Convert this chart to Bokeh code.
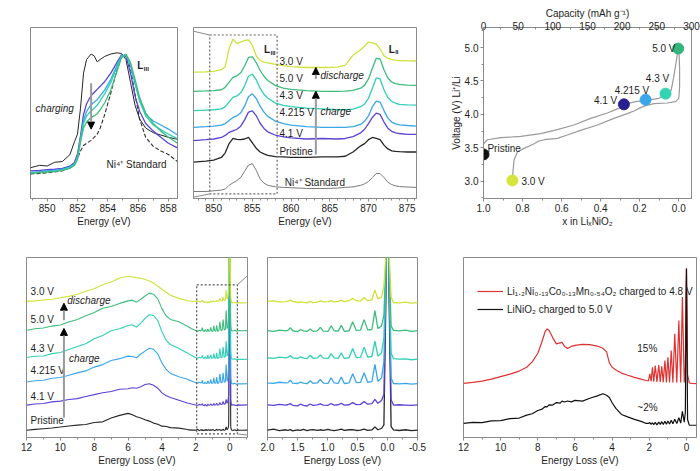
from bokeh.plotting import figure
from bokeh.layouts import row, column
from bokeh.models import (Range1d, LinearAxis, FixedTicker, Arrow, NormalHead, Label,
                          Legend, LegendItem, PrintfTickFormatter)
from bokeh.core.properties import value
from bokeh.embed import file_html
from bokeh.resources import INLINE

FONT = "Liberation Sans"
AXC = "#8a8a8a"
TXT = "#1e1e1e"

C30, C50, C43, C4215, C41, CPR = "#cfe23a", "#3dbd7d", "#2fd0b5", "#3aa6ea", "#5a44d6", "#262626"

# ---------------- panel a (right): Ni L-edge PFY, offset spectra
E_PFY = [847.4, 849, 850, 851, 851.5, 852, 852.5, 853, 853.5, 854, 854.5, 855, 855.5, 856, 856.5, 857, 858, 859, 860,
         862, 864, 866, 867, 868, 869, 869.5, 870, 870.5, 871, 871.5, 872, 872.5, 873, 873.5, 874, 875, 876.2]
PFY_30 = [73.9, 74.1, 74.4, 75.3, 77.1, 87.9, 93.2, 90.6, 91.5, 92.4, 92.8, 89.7, 83.4, 80.7, 79.8, 79.3, 78.4, 77.7, 77.1,
          76.6, 76.6, 76.8, 78.0, 83.8, 87.0, 89.2, 91.5, 91.0, 90.3, 87.4, 83.4, 82.0, 81.3, 80.9, 80.7, 80.5, 80.4]
PFY_50 = [62.7, 62.9, 63.1, 63.6, 65.0, 68.1, 70.8, 71.7, 73.5, 77.5, 82.5, 82.8, 79.5, 75.0, 71.5, 69.0, 66.0, 64.6, 63.8,
          63.1, 62.7, 62.7, 62.8, 63.2, 64.5, 66.3, 69.9, 76.2, 82.0, 81.6, 75.3, 70.5, 68.1, 67.2, 66.7, 66.3, 66.1]
PFY_43 = [51.4, 51.7, 51.9, 52.4, 53.7, 56.4, 59.1, 60.0, 61.8, 65.8, 71.5, 72.8, 69.5, 64.5, 61.0, 58.6, 55.8, 54.5, 53.7,
          52.8, 52.4, 51.9, 51.9, 52.3, 53.7, 55.3, 58.6, 64.5, 70.5, 69.9, 63.6, 59.1, 56.8, 55.7, 55.1, 54.8, 54.6]
PFY_4215 = [41.6, 42.0, 42.3, 42.9, 43.8, 45.6, 47.4, 48.3, 50.1, 54.0, 59.5, 61.2, 58.5, 54.0, 50.5, 48.0, 45.2, 43.8, 42.9,
            42.0, 41.6, 41.6, 41.6, 42.0, 43.4, 45.2, 48.3, 53.7, 56.9, 56.4, 51.4, 47.0, 44.7, 43.6, 43.1, 42.7, 42.3]
PFY_41 = [33.9, 34.4, 34.8, 35.7, 36.9, 38.7, 39.6, 40.5, 42.3, 46.0, 50.5, 51.2, 48.5, 44.0, 41.0, 39.0, 37.0, 36.0, 35.5,
          34.8, 35.1, 34.8, 35.1, 36.2, 38.4, 40.5, 43.8, 47.4, 49.9, 49.2, 44.7, 41.1, 39.3, 38.4, 38.0, 37.5, 37.5]
PFY_PR = [21.3, 21.8, 22.5, 24.0, 26.7, 32.1, 35.1, 34.6, 34.4, 34.8, 35.7, 32.6, 29.4, 27.2, 26.1, 25.2, 24.5, 24.3, 24.0,
          24.0, 24.3, 24.3, 24.7, 27.2, 30.8, 32.1, 34.4, 35.7, 35.1, 34.4, 31.2, 29.0, 27.9, 27.6, 27.4, 27.2, 27.2]
PFY_STD = [4.1, 4.1, 4.5, 4.9, 5.6, 7.7, 9.2, 10.5, 12.3, 15.9, 19.5, 20.4, 16.5, 11.5, 9.0, 7.7, 6.8, 6.5, 6.3,
           5.9, 5.8, 6.1, 6.5, 6.8, 7.7, 8.6, 9.9, 12.3, 14.6, 14.6, 12.3, 9.5, 8.1, 7.4, 7.0, 6.7, 6.5]

# ---------------- panel a (left): normalised L3 edge
E_AL = [848.9, 849.5, 850, 850.5, 851, 851.5, 851.8, 852, 852.2, 852.4, 852.6, 852.9, 853.1, 853.3, 853.5, 853.8,
        854.2, 854.6, 854.9, 855.2, 855.5, 855.8, 856.1, 856.5, 857, 857.5, 858, 858.6]
AL_PR = [18.0, 19.4, 19.0, 21.2, 21.6, 25.6, 33.2, 37.6, 52.8, 73.3, 81.3, 84.5, 83.4, 79.9, 81.3, 83.1, 84.5, 85.2, 84.8,
         81.3, 67.9, 54.5, 46.5, 41.2, 38.5, 37.1, 35.8, 34.6]
AL_41 = [16.2, 16.4, 16.8, 17.1, 17.6, 18.9, 21.0, 26.0, 36.7, 49.2, 55.4, 60.2, 62.0, 63.8, 65.6, 68.4, 73.3, 79.5, 84.0,
         83.1, 73.3, 59.9, 51.0, 43.9, 39.4, 35.8, 32.3, 29.6]
AL_4215 = [15.3, 15.7, 16.2, 16.6, 17.1, 18.5, 20.3, 24.2, 34.9, 45.6, 51.0, 54.9, 56.3, 57.8, 60.2, 63.5, 69.7, 77.7, 83.4,
           84.0, 77.7, 67.0, 57.2, 49.2, 45.3, 43.0, 40.6, 37.1]
AL_43 = [15.0, 15.3, 15.7, 16.0, 16.6, 18.0, 19.8, 23.4, 34.0, 43.9, 48.3, 51.3, 52.8, 54.5, 57.2, 61.3, 67.9, 76.8, 83.1,
         84.0, 78.6, 67.9, 57.2, 48.3, 43.0, 40.3, 37.6, 34.9]
AL_50 = [14.8, 15.2, 15.5, 15.9, 16.4, 17.6, 19.4, 22.8, 33.2, 41.2, 44.7, 47.4, 48.3, 49.6, 51.9, 56.0, 63.5, 74.2, 82.2,
         84.3, 79.5, 69.7, 59.0, 50.1, 43.9, 39.4, 35.8, 32.3]
AL_STD = [14.4, 14.6, 15.0, 15.5, 16.2, 18.0, 20.7, 23.4, 27.8, 31.0, 32.3, 34.0, 35.8, 37.6, 41.2, 49.2, 61.7, 75.0, 83.1,
          84.0, 75.9, 60.8, 46.5, 35.8, 30.5, 27.8, 25.7, 21.6]

# ---------------- panel b: voltage profile
X_CH = [1.0, 0.98, 0.912, 0.809, 0.707, 0.622, 0.537, 0.451, 0.366, 0.324, 0.298, 0.264, 0.221, 0.17, 0.102, 0.068,
        0.039, 0.026, 0.012, 0.005, 0.0]
V_CH = [3.56, 3.62, 3.65, 3.67, 3.71, 3.77, 3.84, 3.94, 4.02, 4.07, 4.10, 4.16, 4.19, 4.21, 4.24, 4.29,
        4.36, 4.56, 4.81, 4.96, 5.0]
X_DIS = [0.0, -0.004, -0.004, 0.0, 0.017, 0.06, 0.128, 0.17, 0.196, 0.23, 0.264, 0.332, 0.417, 0.503, 0.571, 0.622,
         0.69, 0.716, 0.741, 0.792, 0.826, 0.844, 0.852]
V_DIS = [4.985, 4.70, 4.41, 4.24, 4.19, 4.17, 4.16, 4.13, 4.10, 4.05, 4.01, 3.94, 3.84, 3.76, 3.69, 3.64,
         3.62, 3.60, 3.56, 3.49, 3.44, 3.31, 3.04]
PT_NAME = ["Pristine", "3.0 V", "4.1 V", "4.215 V", "4.3 V", "5.0 V"]
PT_X = [1.0, 0.852, 0.281, 0.17, 0.068, 0.003]
PT_V = [3.40, 3.01, 4.15, 4.22, 4.31, 4.985]
PT_COL = ["#111111", "#d6e43c", "#2a1f8f", "#3aa6ea", "#34d3b4", "#33b57c"]

# ---------------- panel c: O K-edge RIXS (coarse part + fine low-loss part)
E_CC = [12, 11.5, 11, 10.5, 10, 9.5, 9, 8.5, 8, 7.5, 7, 6.5, 6, 5.75, 5.5, 5.25, 5.0, 4.75, 4.5, 4.25, 4.0, 3.75,
        3.5, 3.0, 2.5, 2.25]
E_CF = [2.0, 1.9, 1.8, 1.70, 1.66, 1.62, 1.58, 1.50, 1.45, 1.40, 1.34, 1.29, 1.24, 1.17, 1.12, 1.07, 0.99, 0.94, 0.89,
        0.82, 0.77, 0.72, 0.64, 0.58, 0.52, 0.45, 0.39, 0.33, 0.26, 0.21, 0.16, 0.10, 0.06, 0.03, 0.0, -0.03, -0.06,
        -0.1, -0.2, -0.3, -0.4, -0.5, -0.7, -1.05]
RX_30 = [75.6, 75.9, 76.4, 76.8, 77.6, 78.4, 79.6, 81.3, 82.6, 84.9, 86.4, 88.6, 89.6, 89.2, 88.8, 88.5, 87.8, 87.0,
         85.9, 84.0, 82.4, 80.7, 79.0, 77.3, 76.0, 75.7] + \
        [75.6, 75.9, 75.3, 75.5, 75.8, 76.3, 75.6, 75.0, 75.4, 75.1, 74.8, 75.6, 74.9, 75.2, 75.9, 75.3, 75.5, 76.0, 75.4,
         75.6, 76.2, 75.5, 76.0, 77.3, 76.0, 75.8, 77.8, 76.0, 76.5, 82.0, 77.0, 78.0, 84.0, 100.0, 160.0, 100.0, 78.0,
         75.0, 74.8, 75.2, 74.6, 74.9, 74.8, 74.9]
RX_50 = [59.6, 60.4, 60.8, 61.9, 62.5, 64.2, 65.6, 67.7, 69.5, 71.8, 72.8, 74.5, 75.9, 76.3, 75.2, 76.8, 78.6, 80.2,
         79.6, 77.0, 71.6, 67.5, 65.6, 64.3, 61.8, 60.4] + \
        [59.4, 59.0, 59.6, 59.2, 59.5, 61.0, 59.3, 58.8, 60.0, 59.2, 58.9, 60.3, 59.0, 59.2, 61.2, 59.1, 59.0, 62.0, 59.3,
         59.1, 62.3, 59.0, 59.3, 64.3, 59.5, 59.6, 65.5, 59.8, 60.0, 70.5, 60.5, 62.0, 68.0, 95.0, 160.0, 95.0, 62.0,
         59.5, 59.2, 59.6, 59.0, 59.4, 59.3, 59.4]
RX_43 = [44.4, 45.1, 45.3, 46.6, 47.2, 48.9, 50.6, 52.1, 54.9, 56.7, 59.3, 60.4, 62.2, 62.6, 61.3, 63.6, 66.2, 68.2,
         67.8, 65.0, 58.7, 54.0, 51.6, 49.4, 47.0, 45.6] + \
        [44.3, 44.0, 44.6, 44.2, 44.5, 45.6, 44.2, 43.9, 44.8, 44.1, 43.8, 45.7, 44.0, 44.2, 45.9, 44.1, 44.0, 46.6, 44.2,
         44.0, 47.0, 43.9, 44.3, 49.4, 44.4, 44.5, 50.2, 44.6, 45.0, 53.5, 45.2, 47.0, 55.0, 90.0, 160.0, 90.0, 47.0,
         43.8, 43.5, 43.7, 43.2, 43.5, 43.4, 43.5]
RX_4215 = [30.8, 31.5, 31.8, 32.9, 33.3, 34.6, 35.9, 37.0, 39.1, 40.5, 42.8, 43.8, 45.2, 45.0, 44.3, 46.4, 48.0, 49.6,
           49.0, 46.5, 41.3, 37.8, 35.6, 33.8, 32.4, 31.4] + \
          [30.4, 30.1, 30.7, 30.3, 30.5, 31.8, 30.2, 30.0, 30.8, 30.2, 29.9, 31.5, 30.1, 30.3, 32.3, 30.2, 30.1, 33.2,
           30.3, 30.1, 33.6, 30.0, 30.4, 35.4, 30.5, 30.6, 36.0, 30.7, 31.0, 40.6, 31.2, 33.0, 42.0, 85.0, 160.0, 85.0,
           33.0, 30.0, 29.8, 30.1, 29.6, 29.9, 29.8, 29.9]
RX_41 = [18.0, 18.6, 18.9, 19.8, 20.2, 21.1, 21.6, 22.8, 23.8, 24.9, 25.6, 26.8, 27.1, 27.6, 27.4, 28.2, 29.4, 29.9,
         29.0, 27.4, 24.8, 23.2, 22.2, 20.7, 19.2, 18.6] + \
        [18.1, 17.8, 18.4, 18.0, 18.2, 18.8, 17.9, 17.6, 18.5, 17.8, 17.5, 18.6, 17.9, 18.1, 18.7, 18.0, 17.9, 18.9, 18.0,
         18.2, 19.0, 18.0, 18.2, 19.4, 18.3, 18.4, 20.0, 18.5, 18.8, 21.2, 19.0, 20.5, 24.0, 80.0, 160.0, 80.0, 21.0,
         18.0, 18.2, 18.0, 17.8, 18.1, 18.0, 18.1]
RX_PR = [4.0, 4.5, 4.9, 5.3, 5.8, 6.4, 6.9, 7.2, 8.3, 8.7, 10.8, 12.3, 13.4, 12.6, 11.5, 10.8, 9.9, 9.1, 8.0, 7.4,
         6.3, 6.1, 5.5, 5.2, 4.4, 4.1] + \
        [4.1, 4.6, 3.8, 4.3, 4.0, 4.4, 3.7, 4.2, 3.9, 4.5, 3.8, 4.2, 4.4, 3.9, 4.3, 4.0, 4.5, 4.1, 3.8, 4.2, 4.6, 4.0,
         4.3, 4.4, 3.9, 4.1, 4.7, 4.0, 4.2, 5.9, 4.3, 5.0, 7.0, 70.0, 160.0, 70.0, 6.0, 4.2, 3.9, 4.3, 3.8, 4.1, 4.0, 4.1]
E_C = E_CC + E_CF

# ---------------- panel d: comparison
E_DC = [12, 11.5, 11, 10.5, 10, 9.5, 9, 8.6, 8.3, 8.0, 7.8, 7.6, 7.5, 7.4, 7.2, 7.0, 6.8, 6.7, 6.55, 6.4, 6.2, 6.0,
        5.6, 5.2, 4.8, 4.5, 4.3, 4.15, 4.0, 3.8, 3.5, 3.2, 2.8, 2.4, 2.2]
E_DF = [2.05, 1.97, 1.90, 1.83, 1.76, 1.68, 1.59, 1.49, 1.41, 1.33, 1.25, 1.16, 1.08, 1.0, 0.91, 0.82, 0.73, 0.63,
        0.52, 0.41, 0.31, 0.22, 0.12, 0.06, 0.03, 0.0, -0.03, -0.06, -0.15, -0.3, -0.54]
D_LR = [30.1, 30.6, 31.3, 32.4, 33.8, 35.2, 36.9, 39.0, 42.0, 46.8, 52.5, 59.0, 60.3, 59.6, 55.5, 52.0, 52.6, 52.8,
        50.5, 49.4, 50.6, 51.2, 51.7, 51.6, 50.8, 49.6, 47.6, 41.5, 39.0, 37.5, 35.8, 34.7, 33.4, 32.3, 31.8] + \
       [31.4, 35.3, 31.2, 39.0, 31.0, 40.0, 30.9, 40.3, 30.8, 39.6, 30.7, 42.8, 30.6, 44.6, 30.6, 48.3, 30.5, 57.6,
        30.5, 65.0, 30.5, 78.0, 30.6, 40.0, 80.0, 93.9, 70.0, 35.0, 30.3, 30.0, 29.9]
D_LNO = [7.8, 8.4, 8.3, 9.2, 9.4, 10.5, 10.8, 12.4, 13.2, 15.0, 15.6, 17.2, 17.0, 18.1, 18.0, 19.4, 19.1, 20.2, 19.7,
         20.3, 19.8, 20.6, 20.2, 21.8, 23.1, 24.3, 23.5, 22.2, 19.3, 16.2, 12.8, 11.6, 10.1, 8.8, 7.9] + \
        [7.8, 8.3, 7.3, 8.2, 7.2, 8.4, 7.0, 8.5, 7.3, 8.8, 7.2, 9.0, 7.4, 9.2, 7.5, 9.6, 7.6, 10.2, 7.8, 11.0, 8.0,
         14.5, 8.5, 14.0, 60.0, 93.9, 50.0, 10.0, 6.9, 6.8, 6.8]
E_D = E_DC + E_DF

# ---------------- layout geometry (page pixels)
GEO = {
    "aL": dict(cx=0, cy=0, w=186, h=235, fl=30, ft=17, fr=177, fb=202, xr=(848.9, 858.6), yr=(0, 100)),
    "aR": dict(cx=186, cy=0, w=234, h=235, fl=193, ft=17, fr=416, fb=200, xr=(847.4, 876.2), yr=(0, 100)),
    "b": dict(cx=420, cy=0, w=280, h=235, fl=483, ft=27, fr=691, fb=198, xr=(1.0, -0.065), yr=(2.74, 5.30)),
    "cL": dict(cx=0, cy=235, w=256, h=236, fl=26, ft=255, fr=247, fb=437, xr=(12, -1.05), yr=(0, 100)),
    "cR": dict(cx=256, cy=235, w=184, h=236, fl=267, ft=255, fr=417, fb=437, xr=(2.0, -0.5), yr=(0, 100)),
    "d": dict(cx=440, cy=235, w=260, h=236, fl=463, ft=257, fr=696, fb=437, xr=(12, -0.54), yr=(0, 100)),
}


def page_to_data(k, px, py):
    g = GEO[k]
    x0, x1 = g["xr"]
    y0, y1 = g["yr"]
    return (x0 + (px - g["fl"]) / (g["fr"] - g["fl"]) * (x1 - x0),
            y0 + (g["fb"] - py) / (g["fb"] - g["ft"]) * (y1 - y0))


def data_to_page(k, x, y):
    g = GEO[k]
    x0, x1 = g["xr"]
    y0, y1 = g["yr"]
    return (g["fl"] + (x - x0) / (x1 - x0) * (g["fr"] - g["fl"]),
            g["fb"] - (y - y0) / (y1 - y0) * (g["fb"] - g["ft"]))


def make_fig(k, yaxis=None):
    g = GEO[k]
    p = figure(width=g["w"], height=g["h"], x_range=Range1d(*g["xr"]), y_range=Range1d(*g["yr"]),
               output_backend="svg", toolbar_location=None, y_axis_location=yaxis,
               min_border_left=g["fl"] - g["cx"], min_border_right=g["cx"] + g["w"] - g["fr"],
               min_border_top=g["ft"] - g["cy"], min_border_bottom=g["cy"] + g["h"] - g["fb"])
    p.grid.visible = False
    p.outline_line_color = AXC
    p.border_fill_color = "white"
    p.background_fill_color = "white"
    return p


def style_axis(ax, ticks, minor, label, fmt=None, inside=False):
    ax.ticker = FixedTicker(ticks=ticks, minor_ticks=minor)
    ax.axis_label = label
    ax.axis_label_text_font = FONT
    ax.axis_label_text_font_size = "10px"
    ax.axis_label_text_font_style = "normal"
    ax.axis_label_text_color = TXT
    ax.major_label_text_font = FONT
    ax.major_label_text_font_size = "10px"
    ax.major_label_text_color = TXT
    ax.axis_line_color = AXC
    ax.major_tick_line_color = AXC
    ax.minor_tick_line_color = AXC
    if inside:
        ax.major_tick_in, ax.major_tick_out, ax.minor_tick_in, ax.minor_tick_out = 3, 0, 2, 0
        ax.major_label_standoff = -2
        ax.axis_label_standoff = 0
    else:
        ax.major_tick_in, ax.major_tick_out, ax.minor_tick_in, ax.minor_tick_out = 0, 3, 0, 2
        ax.major_label_standoff = 2
        ax.axis_label_standoff = 1
    if fmt:
        ax.formatter = PrintfTickFormatter(format=fmt)


def dtext(p, x, y, s, size="10px", style="normal", align="left", baseline="middle", color=TXT, xo=0, yo=0):
    p.text(x=[x], y=[y], text=[s], text_font=value(FONT), text_font_size=size, text_font_style=style,
           text_align=align, text_baseline=baseline, text_color=color, x_offset=xo, y_offset=yo)


def plabel(p, k, px, py, s, size="10px", style="normal", align="left"):
    x, y = page_to_data(k, px, py)
    p.add_layout(Label(x=x, y=y, text=s, text_font=FONT, text_font_size=size, text_font_style=style,
                       text_align=align, text_baseline="middle", text_color=TXT))


def connector(kA, ptA, kB, ptB, figs):
    A = data_to_page(kA, *ptA)
    B = data_to_page(kB, *ptB)
    for k, p in figs:
        xa, ya = page_to_data(k, *A)
        xb, yb = page_to_data(k, *B)
        p.add_layout(Arrow(end=None, x_start=xa, y_start=ya, x_end=xb, y_end=yb,
                           line_color=AXC, line_width=1))


def head():
    return NormalHead(size=7, fill_color="black", line_color="black")


# ======================= a (left)
pAL = make_fig("aL")
style_axis(pAL.xaxis[0], [850, 852, 854, 856, 858], [849, 851, 853, 855, 857], "Energy (eV)")
pAL.line(E_AL, AL_STD, line_color="#333333", line_dash="4 2", line_width=1.1)
pAL.line(E_AL, AL_PR, line_color=CPR, line_width=1)
for ys, c in [(AL_41, C41), (AL_4215, C4215), (AL_43, C43), (AL_50, C50)]:
    pAL.line(E_AL, ys, line_color=c, line_width=1.3)
pAL.add_layout(Arrow(end=head(), x_start=852.9, y_start=67.4, x_end=852.9, y_end=40.6,
                     line_color="#9a9a9a", line_width=2))
dtext(pAL, 850.5, 52.4, "charging", style="italic", align="center")
dtext(pAL, 855.95, 77.7, "L", style="bold")
dtext(pAL, 855.95, 77.7, "III", size="6px", style="bold", xo=6.5, yo=3)
dtext(pAL, 855.9, 19.8, "Ni\u2074\u207a Standard", align="center")
plabel(pAL, "aL", 2, 7, "a", size="11px", style="bold")

# ======================= a (right)
pAR = make_fig("aR")
style_axis(pAR.xaxis[0], [850, 855, 860, 865, 870, 875], [848, 849, 851, 852, 853, 854, 856, 857, 858, 859,
                                                            861, 862, 863, 864, 866, 867, 868, 869, 871, 872,
                                                            873, 874, 876], "Energy (eV)")
pAR.line(E_PFY, PFY_STD, line_color="#7a7a7a", line_width=1)
for ys, c in [(PFY_PR, CPR), (PFY_41, C41), (PFY_4215, C4215), (PFY_43, C43), (PFY_50, C50), (PFY_30, C30)]:
    pAR.line(E_PFY, ys, line_color=c, line_width=1.3)
pAR.quad(left=[849.5], right=[858.2], bottom=[2.7], top=[95.6], fill_color=None,
         line_color="#666666", line_dash="2 2", line_width=1.2)
for s, yv in [("3.0 V", 80.2), ("5.0 V", 70.3), ("4.3 V", 60.4), ("4.215 V", 50.1), ("4.1 V", 37.8), ("Pristine", 27.2)]:
    dtext(pAR, 858.5, yv, s)
dtext(pAR, 859.2, 9.5, "Ni\u2074\u207a Standard")
dtext(pAR, 863.8, 71.7, "discharge", style="italic")
dtext(pAR, 863.8, 50.6, "charge", style="italic")
pAR.add_layout(Arrow(end=head(), x_start=863.2, y_start=25.8, x_end=863.2, y_end=62.7,
                     line_color="#9a9a9a", line_width=2))
pAR.add_layout(Arrow(end=head(), x_start=863.2, y_start=69.9, x_end=863.2, y_end=76.6,
                     line_color="#9a9a9a", line_width=2))
dtext(pAR, 856.5, 87.0, "L", style="bold")
dtext(pAR, 856.5, 87.0, "III", size="6px", style="bold", xo=6.5, yo=3)
dtext(pAR, 872.6, 87.4, "L", style="bold")
dtext(pAR, 872.6, 87.4, "II", size="6px", style="bold", xo=6.5, yo=3)
plabel(pAR, "aR", 305, 8, "Ni L-edge PFY", style="bold", align="center")

connector("aL", (858.6, 100), "aR", (849.5, 95.6), [("aL", pAL), ("aR", pAR)])
connector("aL", (858.6, 0), "aR", (849.5, 2.7), [("aL", pAL), ("aR", pAR)])

# ======================= b
pB = make_fig("b", yaxis="left")
pB.extra_x_ranges = {"cap": Range1d(0, 300)}
style_axis(pB.xaxis[0], [1.0, 0.8, 0.6, 0.4, 0.2, 0.0], [0.9, 0.7, 0.5, 0.3, 0.1], "x in Li\u2093NiO\u2082", fmt="%.1f")
style_axis(pB.yaxis[0], [3.0, 3.5, 4.0, 4.5, 5.0], [2.75, 3.25, 3.75, 4.25, 4.75, 5.25], "Voltage (V) Li\u207a/Li", fmt="%.1f")
pB.yaxis[0].axis_label_standoff = 0
top = LinearAxis(x_range_name="cap")
style_axis(top, [0, 50, 100, 150, 200, 250, 300], [25, 75, 125, 175, 225, 275], "Capacity (mAh g\u207b\u00b9)", inside=True)
pB.add_layout(top, "above")
pB.line(X_CH, V_CH, line_color="#9a9a9a", line_width=1.2)
pB.line(X_DIS, V_DIS, line_color="#9a9a9a", line_width=1.2)
pB.scatter(PT_X, PT_V, size=11, fill_color=PT_COL, line_color=PT_COL)
dtext(pB, 0.98, 3.49, "Pristine")
dtext(pB, 0.806, 3.0, "3.0 V")
dtext(pB, 0.315, 4.20, "4.1 V", align="right")
dtext(pB, 0.24, 4.36, "4.215 V", align="center")
dtext(pB, 0.109, 4.54, "4.3 V", align="center")
dtext(pB, 0.017, 4.985, "5.0 V", align="right")
plabel(pB, "b", 463, 7, "b", size="11px", style="bold")

# ======================= c (left)
RX = [(RX_PR, CPR), (RX_41, C41), (RX_4215, C4215), (RX_43, C43), (RX_50, C50), (RX_30, C30)]
pCL = make_fig("cL")
style_axis(pCL.xaxis[0], [12, 10, 8, 6, 4, 2, 0], [11, 9, 7, 5, 3, 1, -1], "Energy Loss (eV)")
for ys, c in RX:
    pCL.line(E_C, ys, line_color=c, line_width=1.1)
pCL.quad(left=[1.95], right=[-0.45], bottom=[2.0], top=[84.8], fill_color=None,
         line_color="#555555", line_dash="2 2", line_width=1.2)
for s, yv in [("3.0 V", 81.1), ("5.0 V", 65.7), ("4.3 V", 49.5), ("4.215 V", 37.0), ("4.1 V", 23.0), ("Pristine", 9.5)]:
    dtext(pCL, 11.76, yv, s)
pCL.add_layout(Arrow(end=head(), x_start=9.79, y_start=11.0, x_end=9.79, y_end=60.6,
                     line_color="#9a9a9a", line_width=2))
pCL.add_layout(Arrow(end=head(), x_start=9.79, y_start=65.1, x_end=9.79, y_end=74.6,
                     line_color="#9a9a9a", line_width=2))
dtext(pCL, 9.6, 76.1, "discharge", style="italic")
dtext(pCL, 9.49, 44.0, "charge", style="italic")
plabel(pCL, "cL", 2, 248, "c", size="11px", style="bold")
plabel(pCL, "cL", 35, 245.5, "531.5 eV", style="bold")
plabel(pCL, "cL", 134, 245.5, "O K-edge RIXS", style="bold", align="center")

# ======================= c (right)
pCR = make_fig("cR")
style_axis(pCR.xaxis[0], [2.0, 1.5, 1.0, 0.5, 0.0, -0.5], [1.75, 1.25, 0.75, 0.25, -0.25], "Energy Loss (eV)", fmt="%.1f")
for ys, c in RX:
    pCR.line(E_C, ys, line_color=c, line_width=1.3)
connector("cL", (-0.45, 84.8), "cR", (2.0, 100), [("cL", pCL), ("cR", pCR)])
connector("cL", (-0.45, 2.0), "cR", (2.0, 0), [("cL", pCL), ("cR", pCR)])

# ======================= d
pD = make_fig("d")
style_axis(pD.xaxis[0], [12, 10, 8, 6, 4, 2, 0], [11, 9, 7, 5, 3, 1], "Energy Loss (eV)")
r_red = pD.line(E_D, D_LR, line_color="#e03232", line_width=1.2)
r_blk = pD.line(E_D, D_LNO, line_color="#111111", line_width=1.2)
legend = Legend(items=[LegendItem(label="Li\u2081.\u2082Ni\u2080.\u2081\u2083Co\u2080.\u2081\u2083Mn\u2080.\u2085\u2084O\u2082 charged to 4.8 V", renderers=[r_red]),
                       LegendItem(label="LiNiO\u2082 charged to 5.0 V", renderers=[r_blk])],
                location=(14, 122), glyph_width=26, glyph_height=12, label_height=12, label_standoff=4,
                spacing=6, padding=0, margin=0, border_line_color=None, background_fill_alpha=0,
                label_text_font=FONT, label_text_font_size="10px", label_text_color=TXT)
pD.add_layout(legend)
dtext(pD, 2.11, 49.3, "15%", align="center")
dtext(pD, 2.1, 16.7, "~2%", align="center")
plabel(pD, "d", 450, 247, "d", size="11px", style="bold")
plabel(pD, "d", 475, 245.5, "531.5 eV", style="bold")
plabel(pD, "d", 584, 245.5, "O K-edge RIXS", style="bold", align="center")

layout = column(row(pAL, pAR, pB), row(pCL, pCR, pD))
open("out.html", "w").write(file_html(layout, INLINE, "figure"))
